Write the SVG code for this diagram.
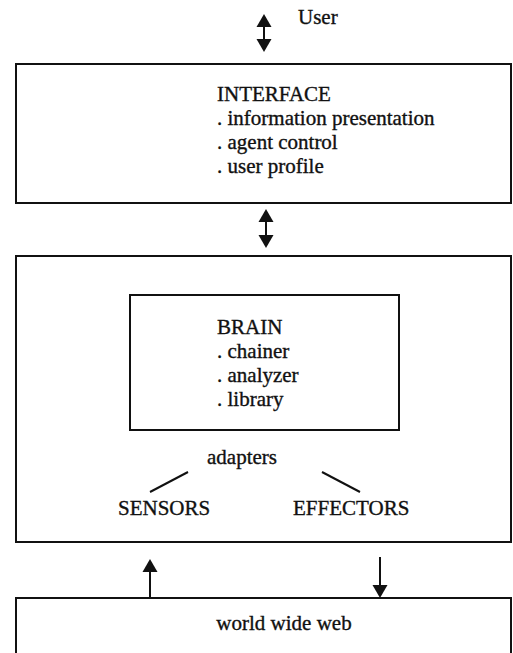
<svg xmlns="http://www.w3.org/2000/svg" width="513" height="653" viewBox="0 0 513 653">
<style>
  .box{fill:none;stroke:#111;stroke-width:2}
  .t{font-family:"Liberation Serif","Times New Roman",serif;font-size:21px;fill:#111;stroke:#111;stroke-width:0.35}
  .c{text-anchor:middle}
  .ln{stroke:#111;stroke-width:2;fill:none}
  .hd{fill:#111;stroke:none}
</style>
<rect width="513" height="653" fill="#fff"/>
<g id="user">
  <text class="t" x="298" y="24">User</text>
</g>
<g id="interface">
  <rect class="box" x="16" y="64" width="495" height="139"/>
  <text class="t" x="217" y="101">INTERFACE</text>
  <text class="t" x="217" y="125">. information presentation</text>
  <text class="t" x="217" y="149">. agent control</text>
  <text class="t" x="217" y="173">. user profile</text>
</g>
<g id="agent">
  <rect class="box" x="16" y="256" width="495" height="286"/>
  <text class="t c" x="242" y="464">adapters</text>
  <text class="t" x="118" y="515">SENSORS</text>
  <text class="t" x="293" y="515">EFFECTORS</text>
</g>
<g id="brain">
  <rect class="box" x="130" y="295" width="269" height="135"/>
  <text class="t" x="217" y="334">BRAIN</text>
  <text class="t" x="217" y="358">. chainer</text>
  <text class="t" x="217" y="382">. analyzer</text>
  <text class="t" x="217" y="406">. library</text>
</g>
<g id="www">
  <rect class="box" x="16" y="598" width="495" height="80"/>
  <text class="t c" x="284" y="630">world wide web</text>
</g>
<g id="connectors">
  <line class="ln" x1="264" y1="24" x2="264" y2="42"/>
  <polygon class="hd" points="264,14 256.5,27 271.5,27"/>
  <polygon class="hd" points="264,52 256.5,39 271.5,39"/>
  <line class="ln" x1="266" y1="218" x2="266" y2="239"/>
  <polygon class="hd" points="266,209 258.5,222 273.5,222"/>
  <polygon class="hd" points="266,248 258.5,235 273.5,235"/>
  <line class="ln" x1="150" y1="492" x2="188" y2="472"/>
  <line class="ln" x1="322" y1="472" x2="360" y2="492"/>
  <line class="ln" x1="150" y1="598" x2="150" y2="568"/>
  <polygon class="hd" points="150,559 142.5,572 157.5,572"/>
  <line class="ln" x1="380" y1="557" x2="380" y2="588"/>
  <polygon class="hd" points="380,598 372.5,585 387.5,585"/>
</g>
</svg>
